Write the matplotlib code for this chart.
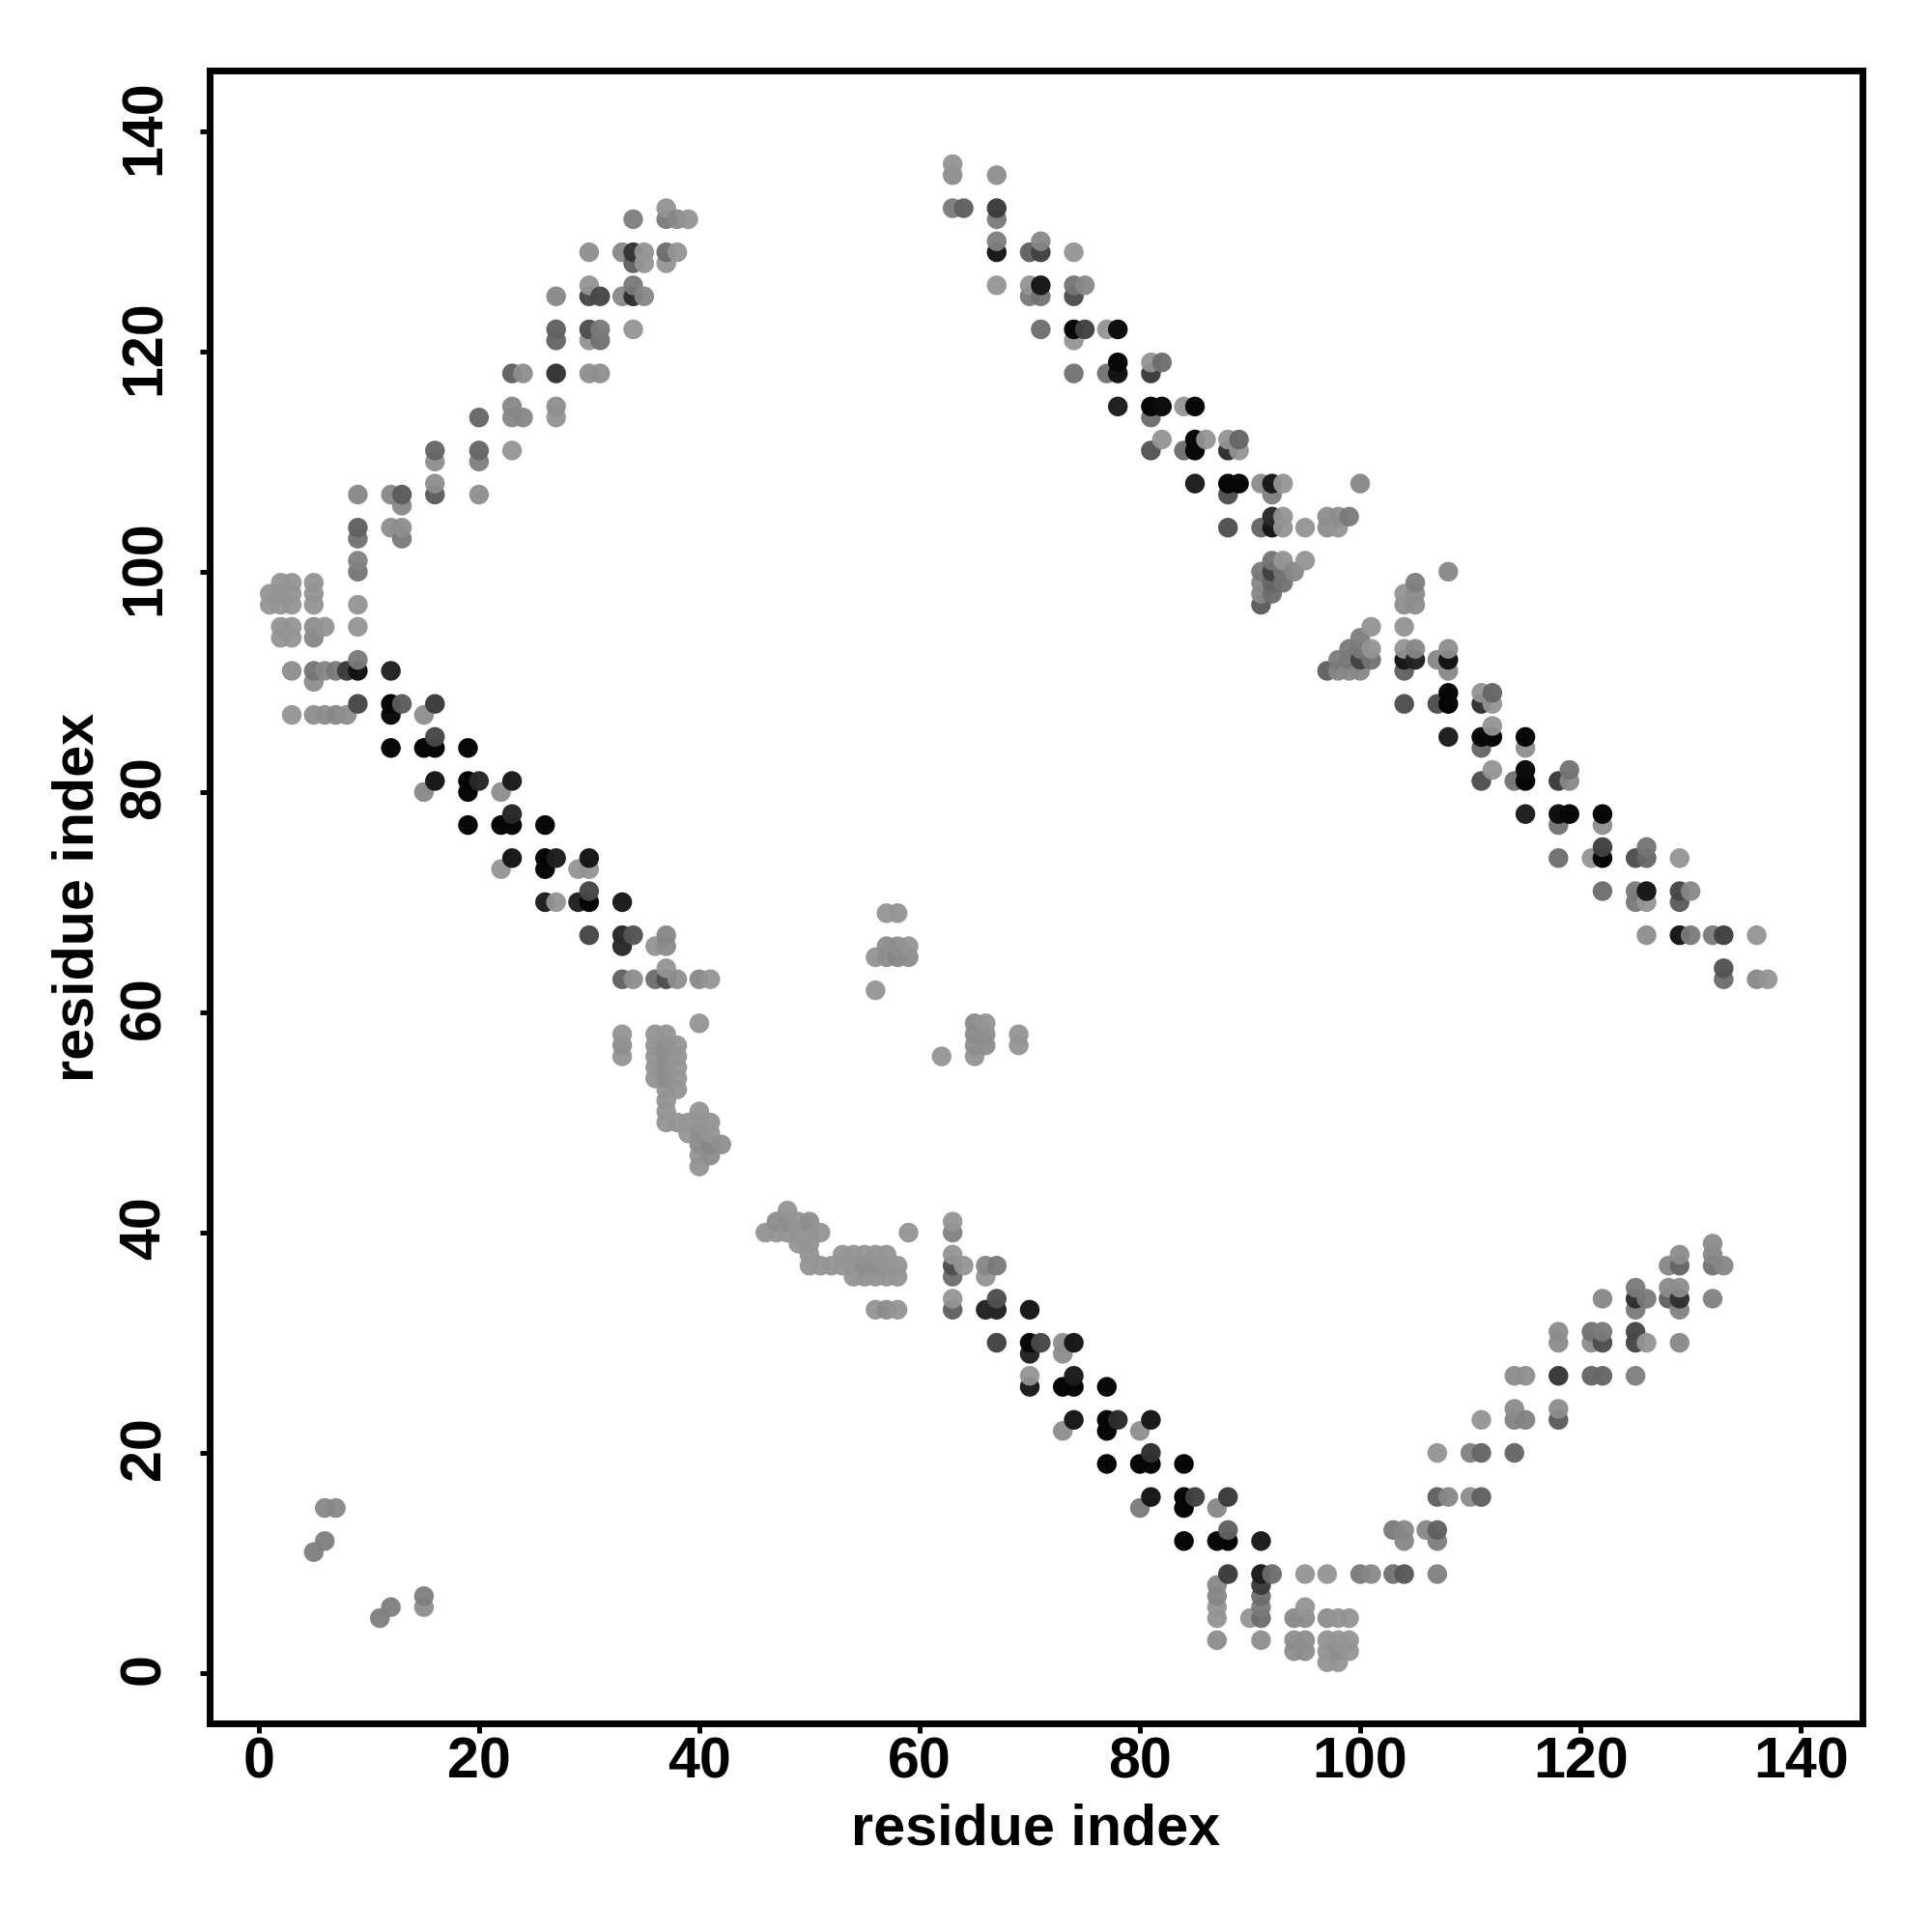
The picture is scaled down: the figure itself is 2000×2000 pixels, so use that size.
import numpy as np
import matplotlib
matplotlib.use("Agg")
import matplotlib.pyplot as plt
from matplotlib.transforms import ScaledTranslation

plt.rcParams["font.family"] = ["Liberation Sans", "DejaVu Sans"]

# contact map: (residue i, residue j, grey level)
corner_low = [
    (5,11,.52),(6,12,.52),(6,15,.55),(7,15,.55),(11,5,.52),(12,6,.52),(15,6,.58),(15,7,.52),
]
corner_top_left = [
    (1,98,.6),(1,97,.6),(2,99,.6),(2,98,.6),(2,97,.6),(3,99,.6),(3,98,.6),(3,97,.6),
    (5,99,.6),(5,98,.6),(5,97,.6),(2,95,.6),(2,94,.6),(3,95,.6),(3,94,.6),
    (5,95,.58),(5,94,.55),(6,95,.6),(3,91,.58),(5,91,.48),(5,90,.58),(6,91,.55),(7,91,.5),
    (8,91,.25),(9,91,.08),(9,92,.5),(3,87,.6),(5,87,.58),(6,87,.58),(7,87,.55),(8,87,.58),
    (9,88,.3),(9,95,.6),(9,97,.6),(9,100,.48),(9,101,.53),(9,103,.47),(9,104,.4),(9,107,.55),
]
arm_lower_left = [
    (12,91,.15),(12,88,.02),(13,88,.38),(16,88,.25),(12,87,.05),(15,87,.58),
    (16,85,.3),(12,84,.03),(15,84,.02),(16,84,.02),(19,84,.03),
    (16,81,.1),(19,81,.02),(20,81,.17),(23,81,.12),(15,80,.55),(19,80,.03),(22,80,.58),
    (23,78,.17),(19,77,.03),(22,77,.02),(23,77,.03),(26,77,.03),
    (23,74,.1),(26,74,.02),(27,74,.13),(30,74,.1),(22,73,.6),(26,73,.03),(29,73,.6),(30,73,.6),
    (30,71,.3),(26,70,.13),(27,70,.6),(29,70,.15),(30,70,.02),(33,70,.12),
    (30,67,.3),(33,67,.18),(34,67,.35),(37,67,.55),(33,66,.18),(36,66,.6),(37,66,.57),
    (37,64,.6),(33,63,.4),(34,63,.58),(36,63,.45),(37,63,.33),(38,63,.58),(40,63,.55),(41,63,.6),
]
arm_upper_left = [
    (12,107,.55),(13,107,.38),(13,106,.55),(12,104,.58),(13,104,.58),(13,103,.5),
    (16,111,.42),(16,110,.58),(16,108,.58),(16,107,.38),(20,114,.43),(20,111,.42),(20,110,.52),
    (20,107,.58),(23,118,.4),(24,118,.58),(23,115,.55),(23,114,.55),(24,114,.55),(23,111,.6),
    (27,125,.55),(27,122,.4),(27,121,.42),(27,118,.22),(27,115,.58),(27,114,.6),
    (30,129,.58),(30,126,.6),(30,125,.3),(31,125,.3),(30,122,.33),(31,122,.5),(30,121,.6),
    (31,121,.47),(30,118,.58),(31,118,.58),(33,129,.55),(34,129,.22),(35,129,.6),(34,128,.4),
    (35,128,.6),(33,125,.55),(34,126,.5),(34,125,.2),(35,125,.55),(34,122,.6),(34,132,.52),
    (37,133,.6),(37,132,.5),(38,132,.55),(39,132,.6),(37,129,.45),(38,129,.6),(37,128,.6),
]
patch_middle_left = [
    (33,58,.6),(33,57,.58),(33,56,.6),(40,59,.6),
    (36,58,.6),(36,57,.6),(36,56,.6),(36,55,.6),(36,54,.6),
    (37,58,.6),(37,57,.58),(37,56,.58),(37,55,.58),(37,54,.58),(37,53,.6),(37,52,.6),(37,51,.6),(37,50,.6),
    (38,57,.6),(38,56,.6),(38,55,.6),(38,54,.6),(38,53,.6),(38,50,.6),(39,50,.6),(39,49,.6),
    (40,51,.6),(40,50,.6),(40,49,.58),(40,48,.58),(40,47,.6),(40,46,.6),
    (41,50,.6),(41,49,.6),(41,48,.55),(41,47,.58),(42,48,.58),
]
patch_center = [
    (56,62,.6),(56,65,.6),(57,66,.58),(57,65,.58),(58,66,.58),(58,65,.55),(59,66,.6),(59,65,.57),
    (57,69,.6),(58,69,.6),(62,56,.6),(65,59,.57),(66,59,.6),(65,58,.57),(66,58,.58),
    (65,57,.58),(66,57,.58),(65,56,.6),(69,58,.6),(69,57,.6),
]
patch_low_center = [
    (46,40,.6),(47,41,.58),(47,40,.6),(48,42,.6),(48,41,.58),(48,40,.6),(49,41,.6),(49,40,.6),
    (50,41,.58),(50,40,.6),(51,40,.6),(59,40,.6),(49,39,.6),(50,39,.6),(50,38,.6),(50,37,.6),
    (51,37,.6),(52,37,.6),(53,38,.6),(53,37,.6),(54,38,.6),(54,37,.6),(54,36,.6),
    (55,38,.6),(55,37,.58),(55,36,.6),(56,38,.6),(56,37,.58),(56,36,.6),
    (57,38,.6),(57,37,.6),(57,36,.6),(58,37,.6),(58,36,.6),(56,33,.6),(57,33,.57),(58,33,.6),
]
arm_low_right = [
    (63,41,.6),(63,40,.53),(63,38,.6),(63,37,.33),(63,36,.45),(63,34,.6),(63,33,.4),(64,37,.6),
    (66,37,.55),(66,36,.6),(67,37,.5),(67,34,.33),(66,33,.15),(67,33,.15),(70,33,.1),
    (67,30,.28),(70,30,.03),(71,30,.3),(73,30,.58),(74,30,.1),(70,29,.15),(73,29,.58),
    (70,27,.6),(70,26,.12),(73,26,.02),(74,27,.12),(74,26,.02),(77,26,.03),
    (74,23,.1),(77,23,.02),(78,23,.18),(81,23,.1),(73,22,.58),(77,22,.03),(80,22,.58),
    (81,20,.2),(77,19,.03),(80,19,.02),(81,19,.03),(84,19,.03),
    (81,16,.1),(84,16,.02),(85,16,.27),(88,16,.25),(80,15,.5),(84,15,.02),(87,15,.55),
    (88,13,.4),(84,12,.03),(87,12,.03),(88,12,.02),(91,12,.12),
    (88,9,.25),(91,9,.12),(92,9,.45),(95,9,.6),(97,9,.6),(87,8,.55),(91,8,.25),(87,7,.55),(91,7,.45),
    (87,6,.6),(91,6,.5),(87,5,.6),(90,5,.6),(91,5,.45),(87,3,.57),(91,3,.58),
]
patch_bottom = [
    (94,5,.55),(95,6,.6),(95,5,.57),(94,3,.58),(95,3,.58),(94,2,.58),(95,2,.58),
    (97,5,.58),(98,5,.6),(99,5,.6),(97,3,.6),(98,3,.6),(99,3,.6),
    (97,2,.6),(98,2,.58),(99,2,.6),(97,1,.6),(98,1,.6),
]
arm_upper_right_low = [
    (100,9,.5),(101,9,.55),(103,9,.47),(104,9,.37),(107,9,.53),
    (103,13,.5),(104,13,.55),(104,12,.55),(106,13,.55),(107,13,.4),(107,12,.52),
    (107,16,.4),(108,16,.55),(110,16,.57),(111,16,.4),(107,20,.6),(110,20,.53),(111,20,.42),
    (114,20,.42),(111,23,.6),(114,24,.57),(114,23,.53),(115,23,.53),(118,24,.57),(118,23,.38),
    (114,27,.57),(115,27,.58),(118,27,.23),(121,27,.42),(122,27,.42),(125,27,.52),
    (118,31,.57),(118,30,.57),(121,31,.47),(122,31,.5),(121,30,.57),(122,30,.33),(125,31,.3),
    (125,30,.3),(126,30,.6),(129,30,.55),(122,34,.55),(125,35,.5),(125,34,.2),(126,34,.5),
    (125,33,.5),(128,35,.57),(129,35,.57),(128,34,.4),(129,34,.2),(129,33,.53),
    (128,37,.55),(129,38,.57),(129,37,.42),(132,39,.57),(132,38,.55),(132,37,.47),(133,37,.55),(132,34,.53),
]
arm_top = [
    (63,137,.6),(63,136,.58),(67,136,.58),(63,133,.5),(64,133,.4),(67,133,.25),(67,132,.5),
    (67,130,.52),(67,129,.1),(70,129,.4),(71,129,.27),(71,130,.55),(74,129,.6),
    (67,126,.6),(70,126,.6),(71,126,.1),(70,125,.5),(71,125,.47),(74,126,.48),(75,126,.55),(74,125,.32),
    (71,122,.45),(74,122,.02),(75,122,.27),(77,122,.6),(78,122,.05),(74,121,.6),
    (74,118,.47),(77,118,.47),(78,119,.03),(78,118,.08),(81,119,.6),(82,119,.45),(81,118,.25),
    (78,115,.13),(81,115,.02),(82,115,.05),(81,114,.45),(84,115,.6),(85,115,.03),
    (82,112,.6),(81,111,.35),(84,111,.45),(85,112,.03),(85,111,.03),(86,112,.6),
    (88,112,.6),(89,112,.42),(88,111,.2),(89,111,.6),
    (85,108,.13),(88,108,.02),(89,108,.03),(91,108,.57),(92,108,.1),(93,108,.6),(88,107,.33),(92,107,.52),
    (88,104,.33),(91,104,.42),(92,105,.18),(92,104,.1),(93,105,.6),(93,104,.6),(95,104,.6),
    (97,105,.58),(98,105,.58),(99,105,.5),(97,104,.58),(98,104,.6),(100,108,.55),
]
cluster_right = [
    (92,101,.47),(93,101,.6),(95,101,.6),(91,100,.5),(92,100,.27),(93,100,.48),(94,100,.55),
    (91,99,.55),(92,99,.42),(93,99,.47),(91,98,.55),(92,98,.45),(91,97,.38),
]
arm_right = [
    (108,100,.55),(105,99,.52),(104,98,.6),(105,98,.58),(104,97,.58),(105,97,.58),(104,95,.6),
    (101,95,.6),(100,94,.52),(101,93,.6),(99,93,.5),(100,93,.5),(98,92,.5),(99,92,.5),
    (100,92,.28),(101,92,.47),(97,91,.4),(98,91,.55),(99,91,.55),(100,91,.55),
    (104,93,.6),(105,93,.55),(104,92,.1),(105,92,.15),(104,91,.4),(107,92,.55),(108,93,.58),
    (108,92,.08),(108,91,.55),(104,88,.33),(107,88,.33),(108,89,.03),(108,88,.02),
    (111,89,.6),(112,89,.42),(111,88,.2),(112,88,.6),(108,85,.13),(111,85,.03),(112,85,.03),
    (112,86,.6),(111,84,.42),(115,85,.03),(115,84,.58),(112,82,.6),(111,81,.33),(114,81,.47),
    (115,82,.05),(115,81,.02),(118,81,.25),(119,82,.47),(119,81,.55),(115,78,.13),(118,78,.07),
    (119,78,.03),(118,77,.47),(118,74,.45),(121,74,.6),(122,78,.03),(122,77,.58),(122,75,.27),
    (122,74,.02),(125,74,.33),(126,75,.48),(126,74,.43),(129,74,.6),(122,71,.45),(125,71,.5),
    (126,71,.1),(125,70,.5),(126,70,.6),(129,71,.3),(130,71,.55),(129,70,.38),(126,67,.58),
    (129,67,.1),(130,67,.5),(132,67,.5),(133,67,.27),(136,67,.6),(133,64,.35),(133,63,.45),
    (136,63,.55),(137,63,.6),
]

ticks = [0, 20, 40, 60, 80, 100, 120, 140]

contacts = np.array(corner_low + corner_top_left + arm_lower_left + arm_upper_left
                    + patch_middle_left + patch_center + patch_low_center + arm_low_right
                    + patch_bottom + arm_upper_right_low + arm_top + cluster_right + arm_right)
# later residues sit on top of earlier ones
contacts = contacts[np.lexsort((contacts[:, 1], contacts[:, 0]))]

# lighter dots are slightly see-through, the black ones are solid
shade = contacts[:, 2]
alpha = 1 - 0.05 * shade / 0.6
grey = (shade - (1 - alpha)) / alpha
colors = np.column_stack([grey, grey, grey, alpha])

fig = plt.figure(figsize=(10, 10), dpi=200)
ax = fig.add_axes([216.5 / 2000, 1 - 1784 / 2000, (1928 - 216.5) / 2000, (1784 - 73) / 2000])

ax.scatter(contacts[:, 0], contacts[:, 1], s=54, c=colors, linewidths=0)

ax.set_xlim(-4.5, 145.6)
ax.set_ylim(-4.55, 145.5)
ax.set_xticks(ticks)
ax.set_yticks(ticks)

for side in ax.spines.values():
    side.set_linewidth(2.5)

ax.tick_params(axis="x", length=3.5, width=1.8, pad=1.5, labelsize=21.3)
ax.tick_params(axis="y", length=3.5, width=1.8, pad=10.5, labelsize=21.3)
for label in ax.get_xticklabels():
    label.set_fontweight("bold")
# y tick labels sit a little above their ticks in the original
nudge = ScaledTranslation(0, 1.6 / 72, fig.dpi_scale_trans)
for label in ax.get_yticklabels():
    label.set_fontweight("bold")
    label.set_rotation(90)
    label.set_verticalalignment("center")
    label.set_transform(label.get_transform() + nudge)

ax.set_xlabel("residue index", fontsize=21.4, fontweight="bold")
ax.set_ylabel("residue index", fontsize=21.4, fontweight="bold")
ax.xaxis.set_label_coords(0.5, (1784 - 1894) / 1711, transform=ax.transAxes)
ax.yaxis.set_label_coords((81 - 216.5) / 1711.5, 0.5, transform=ax.transAxes)
ax.xaxis.label.set_verticalalignment("center")
ax.yaxis.label.set_verticalalignment("center")

fig.savefig("out.png", dpi=200)
